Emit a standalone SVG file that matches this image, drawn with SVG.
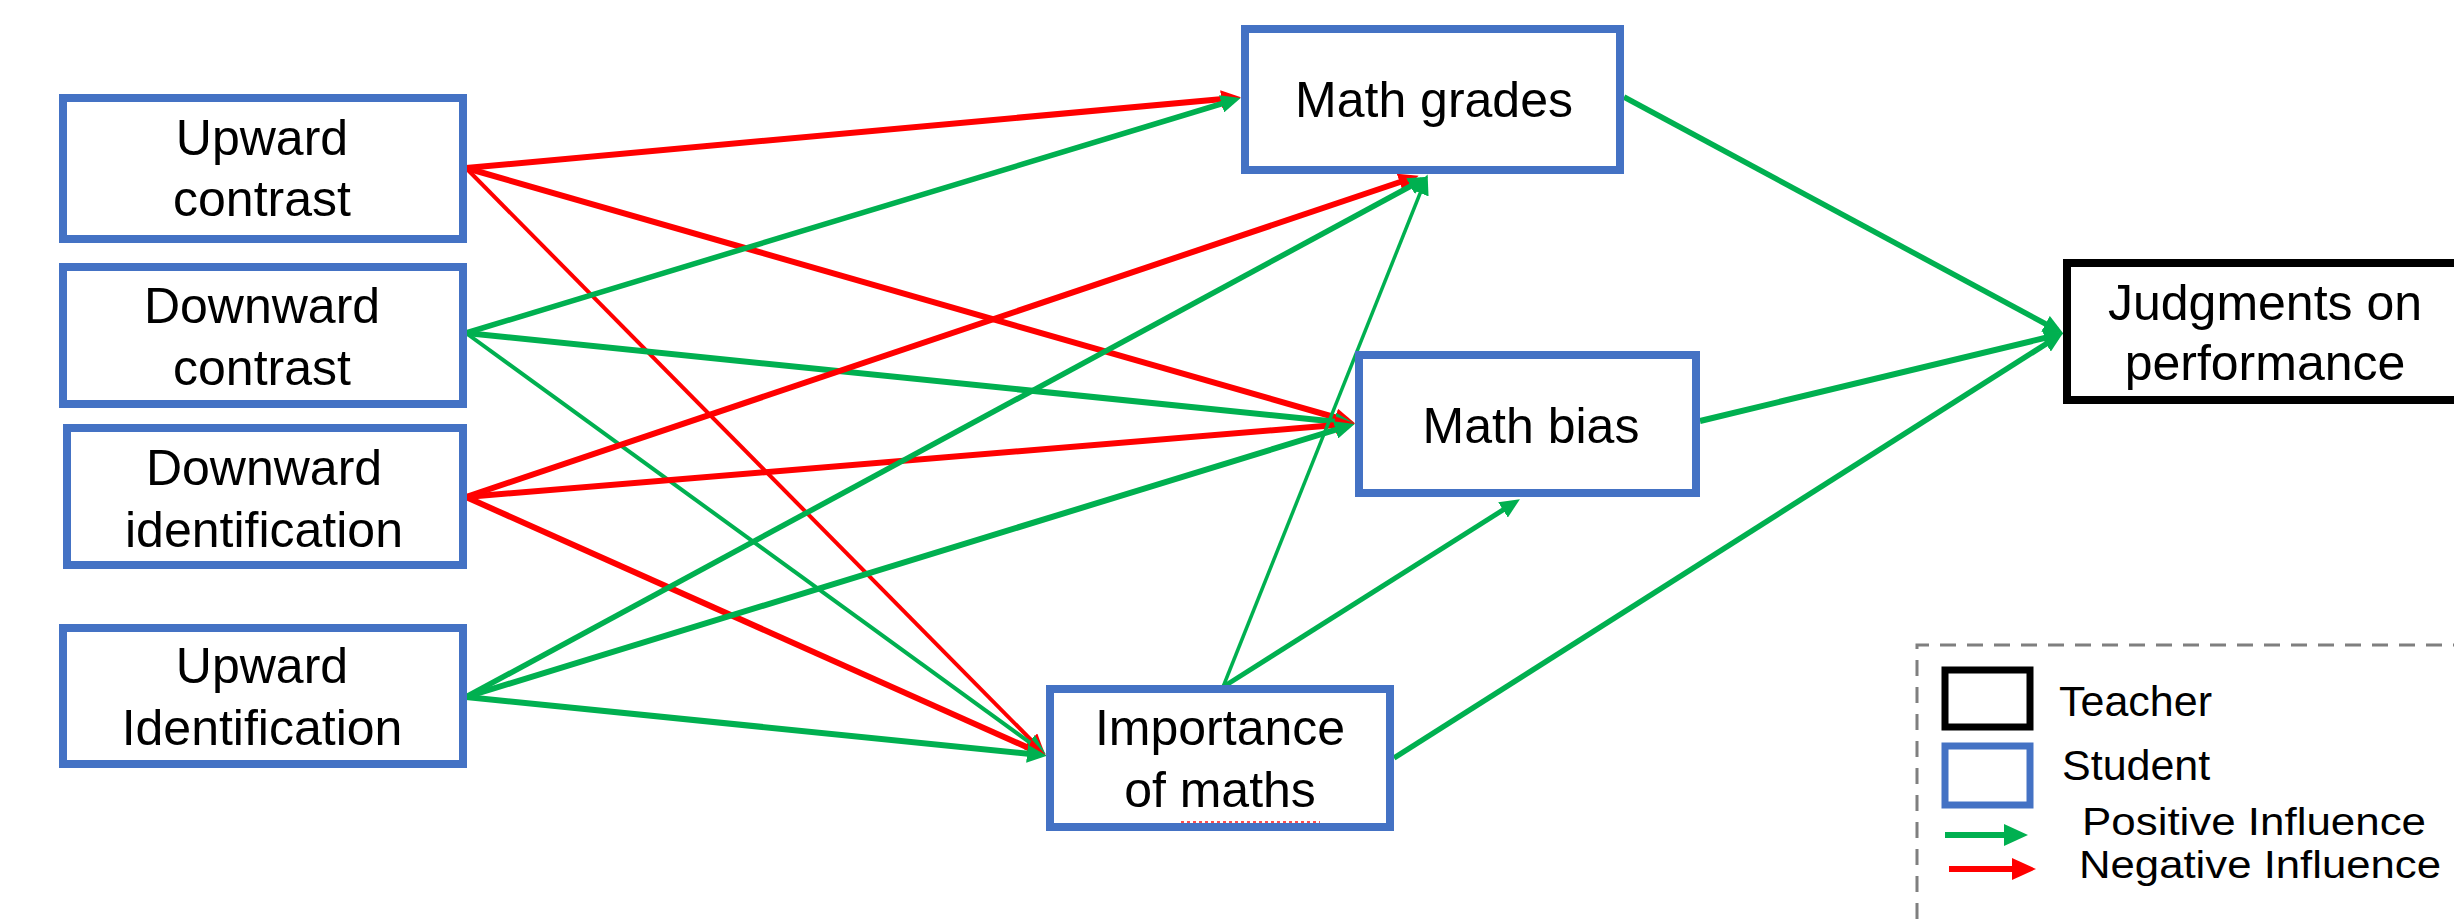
<svg xmlns="http://www.w3.org/2000/svg" width="2454" height="919" viewBox="0 0 2454 919">
<style>
  .node rect { fill: #ffffff; stroke: #4472c4; stroke-width: 8; }
  .teacher rect { stroke: #000000; }
  .lbl { font-family: "Liberation Sans", Arial, sans-serif; font-size: 50px; fill: #000; text-anchor: middle; }
  .leg { font-family: "Liberation Sans", Arial, sans-serif; font-size: 43px; fill: #000; }
  .leg2 { font-family: "Liberation Sans", Arial, sans-serif; font-size: 38px; fill: #000; }
  .pos { stroke: #00b050; fill: none; marker-end: url(#ag); }
  .neg { stroke: #ff0000; fill: none; marker-end: url(#ar); }
</style>
<defs>
  <marker id="ag" viewBox="0 0 20 18" refX="13" refY="9" markerWidth="20" markerHeight="18" markerUnits="userSpaceOnUse" orient="auto">
    <path d="M0,0 L20,9 L0,18 z" fill="#00b050"/>
  </marker>
  <marker id="ar" viewBox="0 0 20 18" refX="13" refY="9" markerWidth="20" markerHeight="18" markerUnits="userSpaceOnUse" orient="auto">
    <path d="M0,0 L20,9 L0,18 z" fill="#ff0000"/>
  </marker>
  <marker id="agL" viewBox="0 0 24 22" refX="12" refY="11" markerWidth="24" markerHeight="22" markerUnits="userSpaceOnUse" orient="auto">
    <path d="M0,0 L24,11 L0,22 z" fill="#00b050"/>
  </marker>
  <marker id="arL" viewBox="0 0 24 22" refX="12" refY="11" markerWidth="24" markerHeight="22" markerUnits="userSpaceOnUse" orient="auto">
    <path d="M0,0 L24,11 L0,22 z" fill="#ff0000"/>
  </marker>
</defs>
<rect width="2454" height="919" fill="#ffffff"/>

<g id="connectors">
  <path class="neg" stroke-width="6" d="M466,168 L1234,98"/>
  <path class="neg" stroke-width="6" d="M466,168 L1348,421"/>
  <path class="neg" stroke-width="4" d="M466,168 L1040,749"/>
  <path class="pos" stroke-width="5.5" d="M466,333 L1234,100"/>
  <path class="pos" stroke-width="6" d="M466,333 L1348,423"/>
  <path class="pos" stroke-width="4" d="M466,333 L1040,750"/>
  <path class="neg" stroke-width="6" d="M466,497 L1412,178"/>
  <path class="neg" stroke-width="6" d="M466,497 L1348,424"/>
  <path class="neg" stroke-width="6" d="M466,497 L1040,753"/>
  <path class="pos" stroke-width="5.5" d="M466,697 L1422,180"/>
  <path class="pos" stroke-width="6" d="M466,697 L1348,426"/>
  <path class="pos" stroke-width="6" d="M466,697 L1040,755"/>
  <path class="pos" stroke-width="3.5" d="M1223,687 L1425,181"/>
  <path class="pos" stroke-width="5" d="M1223,687 L1514,503"/>
  <path class="pos" stroke-width="5.5" d="M1394,758 L2057,337"/>
  <path class="pos" stroke-width="5.5" d="M1624,97 L2057,330"/>
  <path class="pos" stroke-width="6" d="M1700,421 L2057,335"/>
</g>

<g id="upward-contrast" class="node">
  <rect x="63" y="98" width="400" height="141"/>
  <text class="lbl" x="262" y="155">Upward</text>
  <text class="lbl" x="262" y="216">contrast</text>
</g>
<g id="downward-contrast" class="node">
  <rect x="63" y="267" width="400" height="137"/>
  <text class="lbl" x="262" y="323">Downward</text>
  <text class="lbl" x="262" y="385">contrast</text>
</g>
<g id="downward-identification" class="node">
  <rect x="67" y="428" width="396" height="137"/>
  <text class="lbl" x="264" y="485">Downward</text>
  <text class="lbl" x="264" y="547">identification</text>
</g>
<g id="upward-identification" class="node">
  <rect x="63" y="628" width="400" height="136"/>
  <text class="lbl" x="262" y="683">Upward</text>
  <text class="lbl" x="262" y="745">Identification</text>
</g>
<g id="math-grades" class="node">
  <rect x="1245" y="29" width="375" height="141"/>
  <text class="lbl" x="1434" y="117">Math grades</text>
</g>
<g id="math-bias" class="node">
  <rect x="1359" y="355" width="337" height="138"/>
  <text class="lbl" x="1531" y="443">Math bias</text>
</g>
<g id="importance-of-maths" class="node">
  <rect x="1050" y="689" width="340" height="138"/>
  <text class="lbl" x="1220" y="745">Importance</text>
  <text class="lbl" x="1220" y="807">of maths</text>
  <path d="M1181,822 H1320" stroke="#ff0000" stroke-width="2" stroke-dasharray="3 3" opacity="0.7" fill="none"/>
</g>
<g id="judgments-on-performance" class="node teacher">
  <rect x="2067" y="263" width="400" height="137"/>
  <text class="lbl" x="2265" y="320">Judgments on</text>
  <text class="lbl" x="2265" y="380">performance</text>
</g>

<g id="legend">
  <path d="M1917,919 V645 H2454" fill="none" stroke="#7f7f7f" stroke-width="3" stroke-dasharray="16 11"/>
  <rect x="1945" y="670" width="85" height="57" fill="#fff" stroke="#000" stroke-width="7"/>
  <rect x="1945" y="746" width="85" height="59" fill="#fff" stroke="#4472c4" stroke-width="7"/>
  <text class="leg" x="2059" y="716">Teacher</text>
  <text class="leg" x="2062" y="780">Student</text>
  <path d="M1945,835 H2016" stroke="#00b050" stroke-width="6" fill="none" marker-end="url(#agL)"/>
  <path d="M1949,869 H2024" stroke="#ff0000" stroke-width="6" fill="none" marker-end="url(#arL)"/>
  <text class="leg2" x="2082" y="835" textLength="344" lengthAdjust="spacingAndGlyphs">Positive Influence</text>
  <text class="leg2" x="2079" y="878" textLength="362" lengthAdjust="spacingAndGlyphs">Negative Influence</text>
</g>
</svg>
